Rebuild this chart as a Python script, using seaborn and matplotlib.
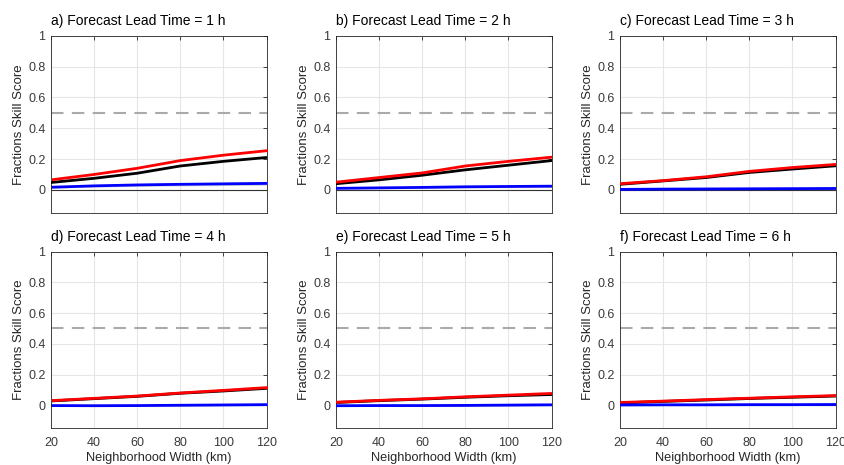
import numpy as np
import pandas as pd
import matplotlib
matplotlib.use("Agg")
import matplotlib.pyplot as plt
import seaborn as sns

# ---- data ----
widths = [20, 40, 60, 80, 100, 120]
panel_titles = ["a) Forecast Lead Time = 1 h", "b) Forecast Lead Time = 2 h",
                "c) Forecast Lead Time = 3 h", "d) Forecast Lead Time = 4 h",
                "e) Forecast Lead Time = 5 h", "f) Forecast Lead Time = 6 h"]

red_a = [0.065, 0.10, 0.14, 0.19, 0.225, 0.254]
red_b = [0.05, 0.08, 0.11, 0.155, 0.185, 0.212]
red_c = [0.04, 0.06, 0.085, 0.12, 0.145, 0.165]
red_d = [0.03, 0.045, 0.06, 0.08, 0.097, 0.115]
red_e = [0.02, 0.032, 0.042, 0.055, 0.066, 0.077]
red_f = [0.018, 0.027, 0.037, 0.046, 0.055, 0.063]

black_a = [0.048, 0.075, 0.108, 0.155, 0.185, 0.21]
black_b = [0.04, 0.065, 0.095, 0.13, 0.16, 0.19]
black_c = [0.036, 0.058, 0.08, 0.113, 0.135, 0.156]
black_d = [0.028, 0.043, 0.058, 0.078, 0.093, 0.11]
black_e = [0.018, 0.03, 0.04, 0.052, 0.062, 0.07]
black_f = [0.015, 0.025, 0.034, 0.044, 0.052, 0.06]

blue_a = [0.017, 0.026, 0.032, 0.036, 0.039, 0.042]
blue_b = [0.01, 0.013, 0.016, 0.02, 0.022, 0.024]
blue_c = [0.003, 0.005, 0.006, 0.007, 0.008, 0.009]
blue_d = [-0.002, -0.003, -0.002, 0.0, 0.002, 0.004]
blue_e = [-0.003, -0.002, -0.002, -0.001, 0.001, 0.003]
blue_f = [0.002, 0.003, 0.003, 0.004, 0.004, 0.005]

# spread of the grey uncertainty band around the blue curve
blue_spread_a = [0.006, 0.008, 0.009, 0.010, 0.011, 0.012]
blue_spread_b = [0.004, 0.005, 0.006, 0.007, 0.008, 0.009]
blue_spread_c = [0.003, 0.003, 0.004, 0.005, 0.006, 0.007]
blue_spread_d = [0.003, 0.003, 0.003, 0.004, 0.004, 0.005]
blue_spread_e = [0.003, 0.003, 0.003, 0.004, 0.004, 0.005]
blue_spread_f = [0.003, 0.003, 0.004, 0.004, 0.005, 0.006]

reds = [red_a, red_b, red_c, red_d, red_e, red_f]
blacks = [black_a, black_b, black_c, black_d, black_e, black_f]
blues = [blue_a, blue_b, blue_c, blue_d, blue_e, blue_f]
spreads = [blue_spread_a, blue_spread_b, blue_spread_c,
           blue_spread_d, blue_spread_e, blue_spread_f]

x_ticks = [20, 40, 60, 80, 100, 120]
y_ticks = [0, 0.2, 0.4, 0.6, 0.8, 1]
y_ticklabels = ["0", "0.2", "0.4", "0.6", "0.8", "1"]
reference_level = 0.5

# ---- style ----
sns.set_style("white")
plt.rcParams["font.family"] = ["Liberation Sans", "DejaVu Sans"]
txt = "#262626"

fig = plt.figure(figsize=(8.44, 4.65), dpi=100)
lefts = [51 / 844, 336 / 844, 620 / 844]
width = 215.5 / 844
rows = [(1 - 213 / 465, (213 - 35.7) / 465), (1 - 428.3 / 465, (428.3 - 251.7) / 465)]

for i in range(6):
    r, c = divmod(i, 3)
    bottom, height = rows[r]
    ax = fig.add_axes([lefts[c], bottom, width, height])
    df = pd.DataFrame({"w": widths, "red": reds[i], "black": blacks[i], "blue": blues[i]})
    lo = np.array(blues[i]) - np.array(spreads[i])
    hi = np.array(blues[i]) + np.array(spreads[i])
    ax.fill_between(widths, lo, hi, color="#c8c8c8", alpha=0.8, lw=0, zorder=1)
    ax.axhline(0, color="#333333", lw=0.8, zorder=1.5)
    ax.axhline(reference_level, color="#aaaaaa", lw=1.5, ls=(0, (6, 4)), zorder=1.5)
    sns.lineplot(data=df, x="w", y="black", color="black", lw=2, ax=ax, zorder=3)
    sns.lineplot(data=df, x="w", y="red", color="#ff0000", lw=2, ax=ax, zorder=4)
    sns.lineplot(data=df, x="w", y="blue", color="#0000ff", lw=2, ax=ax, zorder=5)

    ax.set_xlim(20, 120)
    ax.set_ylim(-0.15, 1)
    ax.set_xticks(x_ticks)
    ax.set_yticks(y_ticks)
    ax.set_yticklabels(y_ticklabels)
    ax.grid(True, color="#e6e6e6", lw=0.8)
    ax.set_axisbelow(True)
    for s in ax.spines.values():
        s.set_color("#262626")
        s.set_linewidth(0.6)
    ax.tick_params(direction="in", length=3, width=0.6, colors=txt,
                   labelsize=9, top=True, right=True, pad=4)
    ax.tick_params(axis="x", pad=6)
    ax.tick_params(axis="both", labelcolor="#3a3a3a")
    if r == 0:
        ax.set_xticklabels([])
        ax.set_xlabel("")
    else:
        ax.set_xlabel("Neighborhood Width (km)", fontsize=9.2, color=txt, labelpad=2.5)
    ax.set_ylabel("Fractions Skill Score", fontsize=9.5, color=txt, labelpad=2)
    ax.set_title(panel_titles[i], loc="left", fontsize=10, color="black", pad=8)

fig.savefig("out.png", dpi=100)
